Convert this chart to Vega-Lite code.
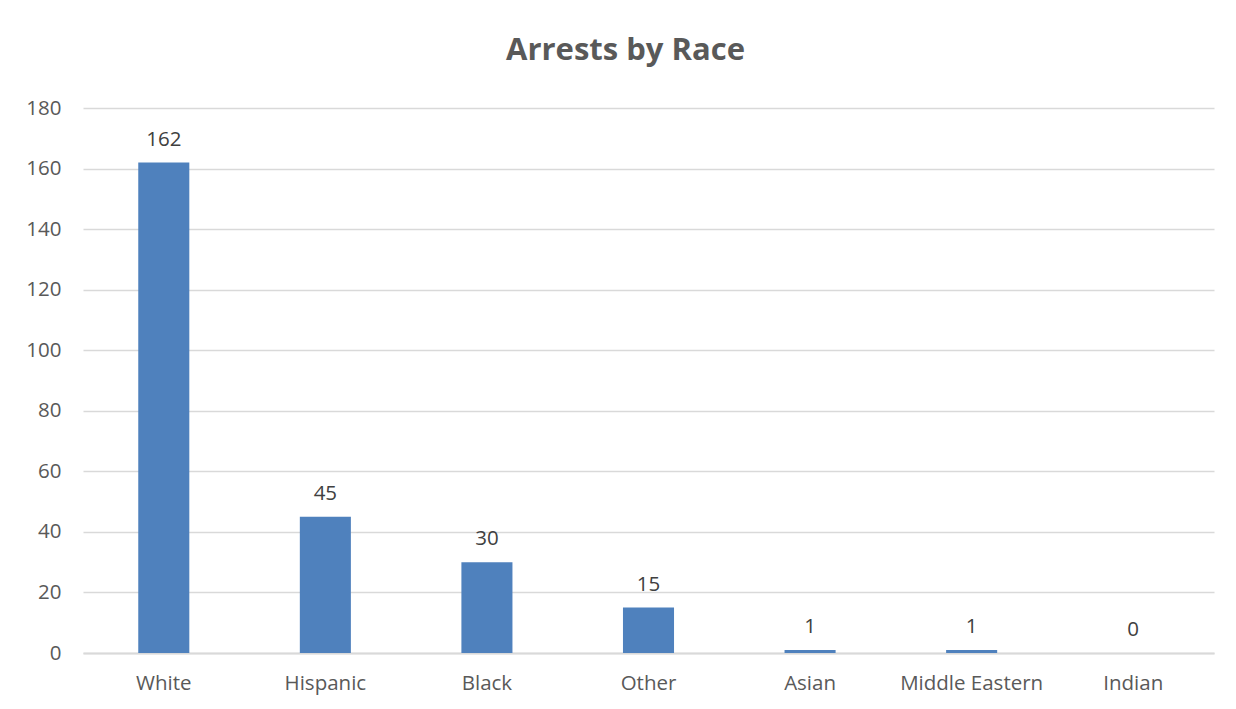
{
  "$schema": "https://vega.github.io/schema/vega-lite/v6.json",
  "autosize": "none",
  "width": 1131,
  "height": 545,
  "padding": {"left": 83, "top": 108, "right": 22, "bottom": 56},
  "background": "white",
  "title": {
    "text": "Arrests by Race",
    "font": "Open Sans",
    "fontSize": 31,
    "fontWeight": "bold",
    "color": "#595959",
    "anchor": "middle",
    "dx": -23,
    "offset": 31
  },
  "data": {
    "values": [
      {"race": "White", "arrests": 162},
      {"race": "Hispanic", "arrests": 45},
      {"race": "Black", "arrests": 30},
      {"race": "Other", "arrests": 15},
      {"race": "Asian", "arrests": 1},
      {"race": "Middle Eastern", "arrests": 1},
      {"race": "Indian", "arrests": 0}
    ]
  },
  "encoding": {
    "x": {
      "field": "race",
      "type": "nominal",
      "sort": null,
      "scale": {"paddingInner": 0.684, "paddingOuter": 0.342},
      "axis": {
        "title": null,
        "labelAngle": 0,
        "labelFont": "Open Sans",
        "labelFontSize": 20.5,
        "labelColor": "#595959",
        "labelPadding": 20,
        "ticks": false,
        "domainColor": "#D9D9D9",
        "domainWidth": 2
      }
    },
    "y": {
      "field": "arrests",
      "type": "quantitative",
      "scale": {"domain": [0, 180]},
      "axis": {
        "title": null,
        "values": [0, 20, 40, 60, 80, 100, 120, 140, 160, 180],
        "labelFont": "Open Sans",
        "labelFontSize": 20.5,
        "labelColor": "#595959",
        "labelPadding": 22,
        "ticks": false,
        "domain": false,
        "gridColor": "#D9D9D9",
        "gridWidth": 1.5
      }
    }
  },
  "layer": [
    {"mark": {"type": "bar", "color": "#4F81BD"}},
    {
      "mark": {
        "type": "text",
        "baseline": "bottom",
        "dy": -13,
        "font": "Open Sans",
        "fontSize": 20.5,
        "color": "#404040"
      },
      "encoding": {"text": {"field": "arrests", "type": "quantitative"}}
    }
  ],
  "config": {"view": {"stroke": null}}
}
